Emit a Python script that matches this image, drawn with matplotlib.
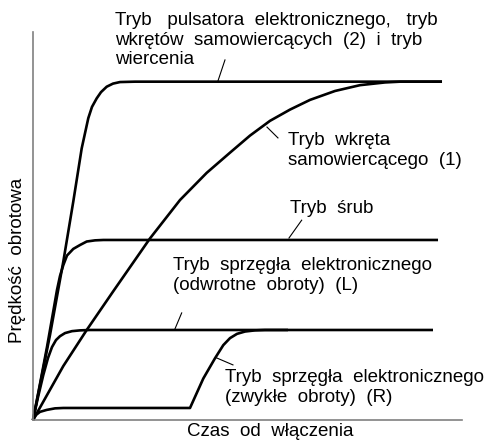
import matplotlib
matplotlib.use("Agg")
import matplotlib.pyplot as plt

plt.rcParams['font.family'] = ['Liberation Sans', 'DejaVu Sans']

# speed curves (time vs. speed, arbitrary units)
pulse_x = [0, 3.96, 7.06, 9.39, 11.35, 12.89, 13.75, 14.85, 15.85, 17.18, 18.65, 20.28, 23.78, 95.34]
pulse_y = [0, 21.9, 40.8, 56.3, 70.0, 77.8, 80.7, 82.9, 84.5, 85.9, 86.7, 87.1, 87.2, 87.2]

self1_x = [0, 7.06, 12.52, 18.72, 27.27, 34.27, 40.49, 45.92, 50.58, 55.24, 59.91,
           64.57, 70.40, 76.22, 82.05, 85.55, 95.34]
self1_y = [0, 13.9, 23.2, 33.2, 46.8, 56.7, 63.7, 68.9, 73.3, 77.1, 80.0,
           82.5, 84.8, 86.3, 87.0, 87.2, 87.2]

screw_x = [0, 1.63, 3.26, 4.66, 5.59, 6.29, 7.06, 7.93, 9.39, 10.96, 12.52, 14.45, 16.39, 94.41]
screw_y = [0, 9.3, 18.8, 27.6, 33.5, 37.1, 39.9, 42.4, 44.1, 45.1, 46.0, 46.3, 46.4, 46.4]

rev_x = [0, 1.17, 2.40, 3.50, 4.43, 5.36, 6.29, 7.46, 9.09, 10.96, 13.29, 93.24]
rev_y = [0, 5.9, 11.6, 16.0, 18.8, 20.6, 21.6, 22.4, 22.9, 23.1, 23.2, 23.2]

fwd_x = [0, 0.70, 1.63, 3.19, 5.13, 7.06, 36.60, 39.70, 42.42, 44.36, 45.92, 47.55,
         49.42, 51.75, 54.08, 59.44]
fwd_y = [0, 1.3, 2.1, 2.6, 3.0, 3.1, 3.1, 10.7, 15.9, 19.3, 21.1, 22.2,
         22.8, 23.1, 23.2, 23.2]

# leader lines: (x0, y0, x1, y1)
leaders = [
    (44.75, 92.8, 43.12, 87.4),
    (54.54, 75.5, 57.10, 72.7),
    (62.63, 51.5, 59.67, 46.9),
    (34.66, 27.6, 33.10, 23.5),
    (42.81, 16.0, 46.61, 14.2),
]

labels = [
    (115, 12, "Tryb   pulsatora  elektronicznego,   tryb\nwkrętów  samowiercących  (2)  i  tryb\nwiercenia"),
    (288, 132, "Tryb  wkręta\nsamowiercącego  (1)"),
    (290, 200, "Tryb  śrub"),
    (173, 257, "Tryb  sprzęgła  elektronicznego\n(odwrotne  obroty)  (L)"),
    (225, 369, "Tryb  sprzęgła  elektronicznego\n(zwykłe  obroty)  (R)"),
]

W, H = 487, 446
fig = plt.figure(figsize=(W / 100, H / 100), dpi=100)
ax = fig.add_axes([33 / W, 26 / H, 429 / W, 388 / H])
ax.set_xlim(0, 100)
ax.set_ylim(0, 100)

for xs, ys in [(pulse_x, pulse_y), (self1_x, self1_y), (screw_x, screw_y),
               (rev_x, rev_y), (fwd_x, fwd_y)]:
    ax.plot(xs, ys, color='black', lw=1.9, solid_capstyle='butt',
            solid_joinstyle='round', clip_on=False)

for x0, y0, x1, y1 in leaders:
    ax.plot([x0, x1], [y0, y1], color='black', lw=0.8)

for side in ['top', 'right']:
    ax.spines[side].set_visible(False)
for side in ['left', 'bottom']:
    ax.spines[side].set_color('#808080')
    ax.spines[side].set_linewidth(1.2)
ax.set_xticks([])
ax.set_yticks([])

for px, py, txt in labels:
    fig.text(px / W, 1 - py / H, txt, fontsize=13.5, ha='left', va='top',
             linespacing=1.2)

fig.text(18 / W, 1 - 260 / H, "Prędkość  obrotowa", fontsize=13.5,
         rotation=90, ha='center', va='center')
fig.text(270 / W, 1 - 431 / H, "Czas  od  włączenia", fontsize=13.5,
         ha='center', va='center')

fig.savefig("out.png", dpi=100)
